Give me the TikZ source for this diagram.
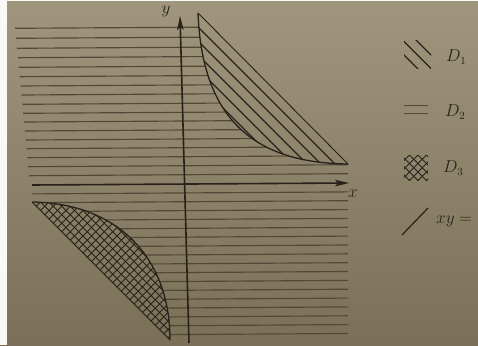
\documentclass[tikz,border=0pt]{standalone}
\usetikzlibrary{arrows.meta}
\definecolor{ink}{RGB}{40,34,26}
\definecolor{faint}{RGB}{82,72,55}
\definecolor{papertop}{RGB}{160,150,126}
\definecolor{paperbot}{RGB}{122,112,88}
\definecolor{margin}{RGB}{248,248,246}
\begin{document}
\begin{tikzpicture}[x=1pt,y=-1pt,
  inkline/.style={draw=ink,line width=1.3pt},
  thinink/.style={draw=ink,line width=0.9pt},
  hline/.style={draw=faint,line width=1.15pt},
  crossline/.style={draw=ink,line width=1.0pt},
  axisline/.style={draw=ink,line width=1.6pt,-{Stealth[length=14pt,width=6.5pt,inset=3pt]}},
  lbl/.style={text=ink,font=\fontsize{16}{19}\selectfont,inner sep=0pt}]
\useasboundingbox (0,0) rectangle (478,345);
\fill[paperbot] (0,0) rectangle (478,345);
\shade[top color=papertop,bottom color=paperbot] (0,0) rectangle (478,345);

% D2 : horizontal lines
\begin{scope}
\clip (0,0) -- (198,13) .. controls (202,115) and (250,163) .. (348,164) -- (478,164) -- (478,345) -- (170,345) -- (170,340) .. controls (170,255) and (115,203) .. (32,202) -- (0,202) -- cycle;
\foreach \y in {28.3,38.3,48.3,57.7,67.3,76.7,86,95,104.3,113.3,122,131,140,148.7,157.7,166.7,175.7}
  \draw[hline] ({15+0.0955*(\y-28)},\y) -- (348,{\y-2});
\foreach \y in {193.9,202.7,211.6,220.4,229.3,238.1,247,255.8,264.7,273.5,282.4,291.2,300.1,308.9,317.8,326.6,335.5}
  \draw[hline] (32,\y) -- (348,{\y-2});
\end{scope}

% D1 : diagonal hatching
\begin{scope}
\clip (198,13) -- (348,164) .. controls (250,163) and (202,115) .. (198,13) -- cycle;
\foreach \c in {115,129,143,157,171}
  \draw[inkline] (\c,0) -- ({\c+200},200);
\end{scope}
\coordinate (d1top) at (198,13);
\coordinate (d1end) at (348,164);
\draw[thinink] (d1top) -- (d1end);
\draw[inkline] (d1top) .. controls (202,115) and (250,163) .. (d1end);

% D3 : cross hatching
\begin{scope}
\clip (32,202) .. controls (115,203) and (170,255) .. (170,340) -- cycle;
\foreach \i in {0,...,10}
  \draw[crossline] ({-170+8.5*\i+150},150) -- ({-170+8.5*\i+400},400);
\foreach \j in {0,...,34}
  \draw[crossline] ({234+8.5*\j-150},150) -- ({234+8.5*\j-400},400);
\end{scope}
\coordinate (d3top) at (32,202);
\coordinate (d3end) at (170,340);
\draw[thinink] (d3top) -- (d3end);
\draw[inkline] (d3top) .. controls (115,203) and (170,255) .. (d3end);

% axes
\coordinate (xs) at (32,185);
\coordinate (xe) at (349,183);
\coordinate (ys) at (189,343);
\coordinate (ye) at (180,16);
\draw[axisline] (xs) -- (xe);
\draw[axisline] (ys) -- (ye);
\node[lbl] (ylab) at (166,11) {$y$};
\node[lbl] (xlab) at (353,194) {$x$};

% legend
\begin{scope}
\clip (404,41) rectangle (431,68);
\foreach \c in {349,362.5,376}
  \draw[inkline,line width=1.2pt] ({\c+30},30) -- ({\c+80},80);
\end{scope}
\node[lbl,anchor=west] (l1) at (446,57) {$D_1$};

\coordinate (h1a) at (404,105.5);
\coordinate (h1b) at (428,105.5);
\coordinate (h2a) at (404,113.5);
\coordinate (h2b) at (428,113.5);
\draw[hline] (h1a) -- (h1b);
\draw[hline] (h2a) -- (h2b);
\node[lbl,anchor=west] (l2) at (445,112) {$D_2$};

\begin{scope}
\clip (404,155) rectangle (428,180);
\foreach \i in {0,...,8}
  \draw[crossline] ({404-155+8.5*\i-20+150},150) -- ({404-155+8.5*\i-20+190},190);
\foreach \j in {0,...,8}
  \draw[crossline] ({404+155+8.5*\j-20-150},150) -- ({404+155+8.5*\j-20-190},190);
\end{scope}
\node[lbl,anchor=west] (l3) at (443,168) {$D_3$};

\coordinate (sa) at (402,235);
\coordinate (sb) at (428,208);
\draw[inkline,line width=1.2pt] (sa) -- (sb);
\node[lbl,anchor=west] (l4) at (436,221) {$xy =$};

% white page margins of the photograph
\fill[margin] (0,0) rectangle (7,345);
\fill[margin] (0,0) rectangle (478,1.5);
\end{tikzpicture}
\end{document}
